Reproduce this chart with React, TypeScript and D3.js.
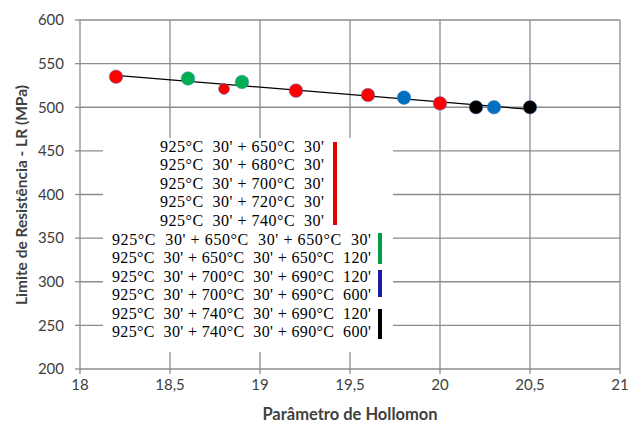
import React from "react";
import * as d3 from "d3";

const hollomon = [18.2, 18.6, 18.8, 18.9, 19.2, 19.6, 19.8, 20.0, 20.2, 20.3, 20.5];
const strength = [535, 533, 521, 529, 519, 514, 511, 504.5, 500, 500, 500];
const groups = ["red", "green", "redSmall", "green", "red", "red", "blue", "red", "black", "blue", "black"];

const xTicks = [18, 18.5, 19, 19.5, 20, 20.5, 21];
const yTicks = [200, 250, 300, 350, 400, 450, 500, 550, 600];

const block1 = [
  "925°C  30' + 650°C  30'",
  "925°C  30' + 680°C  30'",
  "925°C  30' + 700°C  30'",
  "925°C  30' + 720°C  30'",
  "925°C  30' + 740°C  30'",
];
const block2 = [
  "925°C  30' + 650°C  30' + 650°C  30'",
  "925°C  30' + 650°C  30' + 650°C  120'",
  "925°C  30' + 700°C  30' + 690°C  120'",
  "925°C  30' + 700°C  30' + 690°C  600'",
  "925°C  30' + 740°C  30' + 690°C  120'",
  "925°C  30' + 740°C  30' + 690°C  600'",
];

const colors: Record<string, string> = {
  red: "#ff0000",
  redSmall: "#ff0000",
  green: "#00b050",
  blue: "#0070c0",
  black: "#000000",
};

const keepSpaces = (s: string) => s.replace(/  /g, "\u00a0 ");

export default function App() {
  const W = 628, H = 428;
  const x = d3.scaleLinear().domain([18, 21]).range([80, 620]);
  const y = d3.scaleLinear().domain([200, 600]).range([369, 20]);

  const mx = d3.mean(hollomon)!;
  const my = d3.mean(strength)!;
  let sxy = 0, sxx = 0;
  hollomon.forEach((v, i) => {
    sxy += (v - mx) * (strength[i] - my);
    sxx += (v - mx) * (v - mx);
  });
  const slope = sxy / sxx;
  const icpt = my - slope * mx;
  const x0 = d3.min(hollomon)!, x1 = d3.max(hollomon)!;
  const line = d3.line<number>().x((d) => x(d)).y((d) => y(icpt + slope * d));

  const grid = "#8c8c8c";
  const sans = "Lato, 'Open Sans', sans-serif";
  const serif = "'Liberation Serif', 'DejaVu Serif', serif";

  return (
    <svg width={W} height={H} style={{ position: "absolute", left: 0, top: 0, background: "#fff" }}>
      <rect x={0} y={0} width={W} height={H} fill="#fff" />
      {/* grid */}
      {yTicks.filter((t) => t > 200).map((t) => (
        <line key={"gy" + t} x1={x(18)} x2={x(21)} y1={y(t)} y2={y(t)} stroke={grid} strokeWidth={1.3} />
      ))}
      {xTicks.filter((t) => t > 18).map((t) => (
        <line key={"gx" + t} x1={x(t)} x2={x(t)} y1={y(600)} y2={y(200)} stroke={grid} strokeWidth={1.3} />
      ))}
      {/* axes */}
      <line x1={x(18)} x2={x(18)} y1={y(600)} y2={y(200)} stroke={grid} strokeWidth={1.3} />
      <line x1={x(18)} x2={x(21)} y1={y(200)} y2={y(200)} stroke={grid} strokeWidth={1.3} />
      {yTicks.map((t) => (
        <line key={"ty" + t} x1={x(18) - 5} x2={x(18)} y1={y(t)} y2={y(t)} stroke={grid} strokeWidth={1.3} />
      ))}
      {xTicks.map((t) => (
        <line key={"tx" + t} x1={x(t)} x2={x(t)} y1={y(200)} y2={y(200) + 5} stroke={grid} strokeWidth={1.3} />
      ))}
      {/* tick labels */}
      {yTicks.map((t) => (
        <text key={"ly" + t} x={x(18) - 16} y={y(t)} dy="0.35em" textAnchor="end" fontFamily={sans} fontSize={15} fill="#404040">
          {t}
        </text>
      ))}
      {xTicks.map((t) => (
        <text key={"lx" + t} x={x(t)} y={y(200) + 16} dy="0.35em" textAnchor="middle" fontFamily={sans} fontSize={15} fill="#404040">
          {String(t).replace(".", ",")}
        </text>
      ))}
      {/* titles */}
      <text x={350} y={420} textAnchor="middle" fontFamily={sans} fontSize={16.5} fontWeight="bold" fill="#404040">
        Parâmetro de Hollomon
      </text>
      <text transform="translate(22,195) rotate(-90)" dy="0.35em" textAnchor="middle" fontFamily={sans} fontSize={15.5} fontWeight="bold" fill="#404040">
        Limite de Resistência - LR (MPa)
      </text>
      {/* trend line */}
      <path d={line([x0, x1]) || ""} stroke="#000" strokeWidth={1.3} fill="none" />
      {/* points */}
      {hollomon.map((v, i) => (
        <circle
          key={"p" + i}
          cx={x(v)}
          cy={y(strength[i])}
          r={groups[i] === "redSmall" ? 5.5 : 6.8}
          fill={colors[groups[i]]}
          stroke="#4a7ec0"
          strokeWidth={0.5}
        />
      ))}
      {/* legend box */}
      <rect x={103} y={138} width={290} height={214} fill="#fff" />
      {block1.map((s, i) => (
        <text key={"b1" + i} x={160} y={151.5 + i * 18.5} textLength={164} lengthAdjust="spacing" fontFamily={serif} fontSize={16} fill="#000">
          {keepSpaces(s)}
        </text>
      ))}
      {block2.map((s, i) => (
        <text key={"b2" + i} x={112} y={245 + i * 18.4} textLength={259} lengthAdjust="spacing" fontFamily={serif} fontSize={16} fill="#000">
          {keepSpaces(s)}
        </text>
      ))}
      <rect x={333} y={142} width={4} height={83} fill="#e00000" />
      <rect x={378} y={233} width={4} height={31} fill="#00a04a" />
      <rect x={378} y={270} width={4} height={27} fill="#1a1aa8" />
      <rect x={378} y={309} width={4} height={30} fill="#000" />
    </svg>
  );
}
